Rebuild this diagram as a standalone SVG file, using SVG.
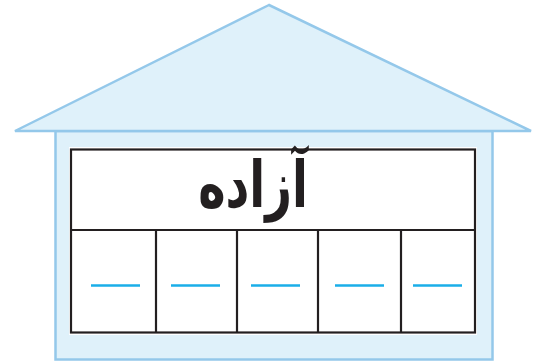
<svg xmlns="http://www.w3.org/2000/svg" width="540" height="362" viewBox="0 0 540 362">
<style>
.house{fill:#dff1fa;stroke:#94c8ea;stroke-width:2.5;stroke-linejoin:miter}
.grid{fill:none;stroke:#231f20;stroke-width:2.2}
.dash{stroke:#1aaee8;stroke-width:2.5}
.word{font-family:"DejaVu Sans",sans-serif;font-weight:bold;font-size:58px;fill:#231f20}
</style>
<rect width="540" height="362" fill="#ffffff"/>
<g id="house">
<rect class="house" x="55.5" y="131" width="437" height="228.5"/>
<polygon class="house" points="269,5 15,131 531,131"/>
</g>
<g id="table">
<rect x="69" y="147" width="408" height="188" fill="#ffffff"/>
<rect class="grid" x="71" y="149.5" width="404" height="183"/>
<line class="grid" x1="71" y1="230" x2="475" y2="230"/>
<line class="grid" x1="156" y1="230" x2="156" y2="332.5"/>
<line class="grid" x1="237" y1="230" x2="237" y2="332.5"/>
<line class="grid" x1="318" y1="230" x2="318" y2="332.5"/>
<line class="grid" x1="401" y1="230" x2="401" y2="332.5"/>
</g>
<g id="word">
<text class="word" transform="translate(253,207) scale(0.8,1.12)" x="0" y="0" text-anchor="middle" direction="rtl" letter-spacing="3">آزاده</text>
</g>
<g id="blanks">
<line class="dash" x1="91" y1="285.5" x2="140" y2="285.5"/>
<line class="dash" x1="171" y1="285.5" x2="220" y2="285.5"/>
<line class="dash" x1="251" y1="285.5" x2="300" y2="285.5"/>
<line class="dash" x1="335" y1="285.5" x2="384" y2="285.5"/>
<line class="dash" x1="413" y1="285.5" x2="462" y2="285.5"/>
</g>
</svg>
